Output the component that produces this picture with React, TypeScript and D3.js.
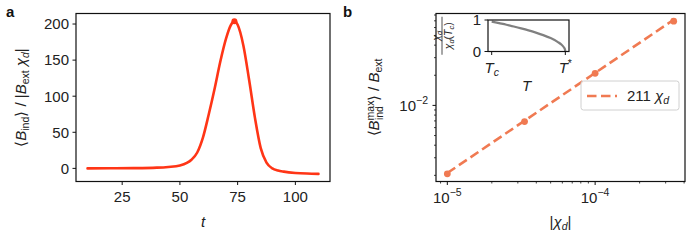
import React from "react";
import * as d3 from "d3";

// panel a: induced field vs time
const timeA = [10, 20, 30, 40, 45, 50, 53, 55, 57.5, 60, 62.5, 65, 67.5, 70, 72, 73.6, 75, 77.5, 80, 82.5, 85, 87.5, 90, 92.5, 95, 100, 105, 110];
const bindA = [0, 0.1, 0.3, 1.0, 2.0, 4.0, 7.5, 12, 22, 43, 75, 110, 148, 180, 198, 204, 199, 170, 122, 70, 28, 8, 0, -3, -4.5, -6.3, -7.2, -7.6];
const xTicksA = [25, 50, 75, 100];
const yTicksA = [0, 50, 100, 150, 200];

// panel b: max induced field vs |chi_d|
const chiAbs = [1e-5, 3.33e-5, 1e-4, 3.4e-4];
const bMax = [2.07e-3, 6.9e-3, 0.0209, 0.0695];
const fitCoef = 211;
const xMajorB = [1e-5, 1e-4];
const yMajorB = [1e-2];

// inset: chi_d / chi_d(Tc) vs T (Tc = 0, T* = 1)
const insetT = [0, 0.1, 0.2, 0.3, 0.4, 0.5, 0.6, 0.7, 0.8, 0.9, 0.95, 0.98, 0.995, 1.0];
const insetChi = [0.95, 0.9, 0.85, 0.795, 0.736, 0.672, 0.6, 0.52, 0.425, 0.3, 0.212, 0.134, 0.067, 0];

const FONT = "'Liberation Sans', Arial, Helvetica, sans-serif";
const FS = 15;
const SUB = 10.5;
const colA = "#ff3516";
const colB = "#f07a52";

const padLin = (lo: number, hi: number) => {
  const m = (hi - lo) * 0.05;
  return [lo - m, hi + m];
};
const padLog = (lo: number, hi: number) => {
  const a = Math.log10(lo), b = Math.log10(hi);
  const m = (b - a) * 0.05;
  return [Math.pow(10, a - m), Math.pow(10, b + m)];
};

function minorLogTicks(lo: number, hi: number) {
  const out: number[] = [];
  for (let e = Math.floor(Math.log10(lo)); e <= Math.ceil(Math.log10(hi)); e++) {
    for (let k = 2; k <= 9; k++) {
      const v = k * Math.pow(10, e);
      if (v >= lo && v <= hi) out.push(v);
    }
  }
  return out;
}

const Pow10 = ({ x, y, exp, anchor }: { x: number; y: number; exp: number; anchor: string }) => (
  <text x={x} y={y} fontSize={FS} textAnchor={anchor} fontFamily={FONT} fill="#222">
    10<tspan fontSize={SUB} dy={-6.5}>{"\u2212" + Math.abs(exp)}</tspan>
  </text>
);

export default function App() {
  // ---------- panel a ----------
  const aL = 76, aR = 330, top = 13.5, bot = 181.5;
  const xA = d3.scaleLinear().domain(padLin(d3.min(timeA)!, d3.max(timeA)!)).range([aL, aR]);
  const yA = d3.scaleLinear().domain(padLin(d3.min(bindA)!, d3.max(bindA)!)).range([bot, top]);
  const lineA = d3.line<number>().x((_, i) => xA(timeA[i])).y((d) => yA(d)).curve(d3.curveMonotoneX);
  const peakI = d3.maxIndex(bindA);

  // ---------- panel b ----------
  const bL = 436, bR = 685;
  const xDomB = padLog(d3.min(chiAbs)!, d3.max(chiAbs)!);
  const yDomB = padLog(d3.min(bMax)!, d3.max(bMax)!);
  const xB = d3.scaleLog().domain(xDomB).range([bL, bR]);
  const yB = d3.scaleLog().domain(yDomB).range([bot, top]);
  const fitPts = chiAbs.map((c) => [xB(c), yB(fitCoef * c)] as [number, number]);
  const fitPath = d3.line()([fitPts[0], fitPts[fitPts.length - 1]]);
  const xMinorB = minorLogTicks(xDomB[0], xDomB[1]);
  const yMinorB = minorLogTicks(yDomB[0], yDomB[1]);

  // ---------- inset ----------
  const iL = 488, iR = 569, iT = 20, iB = 51.5;
  const xI = d3.scaleLinear().domain(padLin(0, 1)).range([iL, iR]);
  const yI = d3.scaleLinear().domain([0, 1]).range([iB, iT]);
  const lineI = d3.line<number>().x((_, i) => xI(insetT[i])).y((d) => yI(d)).curve(d3.curveMonotoneX);

  const tick = 3.5, minor = 2;

  return (
    <svg width={700} height={245} style={{ position: "absolute", left: 0, top: 0, background: "#fff" }} fontFamily={FONT}>
      {/* panel labels */}
      <text x={6} y={17} fontSize={15} fontWeight="bold" fill="#111">a</text>
      <text x={343} y={17} fontSize={15} fontWeight="bold" fill="#111">b</text>

      {/* ===== panel a ===== */}
      <path d={lineA(bindA)!} fill="none" stroke={colA} strokeWidth={2.6} strokeLinejoin="round" strokeLinecap="round" />
      <circle cx={xA(timeA[peakI])} cy={yA(bindA[peakI])} r={3} fill={colA} />
      <rect x={aL} y={top} width={aR - aL} height={bot - top} fill="none" stroke="#111" strokeWidth={1.2} />
      {xTicksA.map((t) => (
        <g key={"xa" + t}>
          <line x1={xA(t)} x2={xA(t)} y1={bot} y2={bot + tick} stroke="#111" strokeWidth={1} />
          <text x={xA(t)} y={bot + 20} fontSize={FS} textAnchor="middle" fill="#222">{t}</text>
        </g>
      ))}
      {yTicksA.map((t) => (
        <g key={"ya" + t}>
          <line x1={aL - tick} x2={aL} y1={yA(t)} y2={yA(t)} stroke="#111" strokeWidth={1} />
          <text x={aL - 7} y={yA(t) + 5.3} fontSize={FS} textAnchor="end" fill="#222">{t}</text>
        </g>
      ))}
      <text x={(aL + aR) / 2} y={227} fontSize={FS} textAnchor="middle" fontStyle="italic" fill="#222">t</text>
      <text transform={`translate(26,${(top + bot) / 2}) rotate(-90)`} fontSize={FS} textAnchor="middle" fill="#222">
        {"\u27E8"}<tspan fontStyle="italic">B</tspan>
        <tspan fontSize={SUB} dy={3}>ind</tspan>
        <tspan dy={-3}>{"\u27E9 / |"}</tspan>
        <tspan fontStyle="italic">B</tspan>
        <tspan fontSize={SUB} dy={3}>ext</tspan>
        <tspan dy={-3} fontStyle="italic">{" \u03C7"}</tspan>
        <tspan fontSize={SUB} dy={3} fontStyle="italic">d</tspan>
        <tspan dy={-3}>|</tspan>
      </text>

      {/* ===== panel b ===== */}
      <path d={fitPath!} fill="none" stroke={colB} strokeWidth={2.6} strokeDasharray="9.5,4.5" />
      {chiAbs.map((c, i) => (
        <circle key={"pb" + i} cx={xB(c)} cy={yB(bMax[i])} r={3.4} fill={colB} />
      ))}
      <rect x={bL} y={top} width={bR - bL} height={bot - top} fill="none" stroke="#111" strokeWidth={1.2} />
      {xMinorB.map((t, i) => (
        <line key={"xmb" + i} x1={xB(t)} x2={xB(t)} y1={bot} y2={bot + minor} stroke="#111" strokeWidth={0.8} />
      ))}
      {xMajorB.map((t) => (
        <g key={"xb" + t}>
          <line x1={xB(t)} x2={xB(t)} y1={bot} y2={bot + tick} stroke="#111" strokeWidth={1} />
          <Pow10 x={xB(t)} y={bot + 21} exp={Math.round(Math.log10(t))} anchor="middle" />
        </g>
      ))}
      {yMinorB.map((t, i) => (
        <line key={"ymb" + i} x1={bL - minor} x2={bL} y1={yB(t)} y2={yB(t)} stroke="#111" strokeWidth={0.8} />
      ))}
      {yMajorB.map((t) => (
        <g key={"yb" + t}>
          <line x1={bL - tick} x2={bL} y1={yB(t)} y2={yB(t)} stroke="#111" strokeWidth={1} />
          <Pow10 x={bL - 8} y={yB(t) + 5.3} exp={Math.round(Math.log10(t))} anchor="end" />
        </g>
      ))}
      <text x={(bL + bR) / 2} y={227} fontSize={FS} textAnchor="middle" fill="#222">
        |<tspan fontStyle="italic">{"\u03C7"}</tspan>
        <tspan fontSize={SUB} dy={3} fontStyle="italic">d</tspan>
        <tspan dy={-3}>|</tspan>
      </text>
      <text transform={`translate(379,${(top + bot) / 2}) rotate(-90)`} fontSize={FS} textAnchor="middle" fill="#222">
        {"\u27E8"}<tspan fontStyle="italic">B</tspan>
        <tspan fontSize={SUB} dy={-5.5}>max</tspan>
        <tspan fontSize={SUB} dx={-19.5} dy={9.5}>ind</tspan>
        <tspan dx={5} dy={-4}>{"\u27E9 / "}</tspan>
        <tspan fontStyle="italic">B</tspan>
        <tspan fontSize={SUB} dy={3}>ext</tspan>
      </text>

      {/* legend */}
      <rect x={581} y={81} width={98} height={29} rx={2.5} fill="#fff" fillOpacity={0.85} stroke="#d0d0d0" strokeWidth={1} />
      <line x1={587} x2={617} y1={96} y2={96} stroke={colB} strokeWidth={2.6} strokeDasharray="9.5,4.5" />
      <text x={627} y={101} fontSize={FS} fill="#222">
        211 <tspan fontStyle="italic">{"\u03C7"}</tspan>
        <tspan fontSize={SUB} dy={3} fontStyle="italic">d</tspan>
      </text>

      {/* inset */}
      <rect x={iL} y={iT} width={iR - iL} height={iB - iT} fill="#fff" stroke="none" />
      <path d={lineI(insetChi)!} fill="none" stroke="#808080" strokeWidth={2.2} />
      <rect x={iL} y={iT} width={iR - iL} height={iB - iT} fill="none" stroke="#111" strokeWidth={1.2} />
      {[0, 1].map((v) => (
        <g key={"yi" + v}>
          <line x1={iL - tick} x2={iL} y1={yI(v)} y2={yI(v)} stroke="#111" strokeWidth={1} />
          <text x={iL - 7} y={yI(v) + 5.3} fontSize={FS} textAnchor="end" fill="#222">{v}</text>
        </g>
      ))}
      {[0, 1].map((v) => (
        <line key={"xi" + v} x1={xI(v)} x2={xI(v)} y1={iB} y2={iB + tick} stroke="#111" strokeWidth={1} />
      ))}
      <text x={xI(0)} y={iB + 21} fontSize={FS} textAnchor="middle" fill="#222">
        <tspan fontStyle="italic">T</tspan>
        <tspan fontSize={SUB} dy={3} fontStyle="italic">c</tspan>
      </text>
      <text x={xI(1)} y={iB + 21} fontSize={FS} textAnchor="middle" fill="#222">
        <tspan fontStyle="italic">T</tspan>
        <tspan fontSize={SUB} dy={-6}>*</tspan>
      </text>
      <text x={(iL + iR) / 2 - 2} y={iB + 39} fontSize={FS} textAnchor="middle" fontStyle="italic" fill="#222">T</text>
      <g transform={`translate(442,${(iT + iB) / 2}) rotate(-90)`} fill="#222">
        <text x={0} y={-2} fontSize={10.5} textAnchor="middle">
          <tspan fontStyle="italic">{"\u03C7"}</tspan>
          <tspan fontSize={7.5} dy={2} fontStyle="italic">d</tspan>
        </text>
        <line x1={-19} x2={19} y1={0} y2={0} stroke="#222" strokeWidth={0.8} />
        <text x={0} y={9.5} fontSize={10.5} textAnchor="middle">
          <tspan fontStyle="italic">{"\u03C7"}</tspan>
          <tspan fontSize={7.5} dy={2} fontStyle="italic">d</tspan>
          <tspan dy={-2}>(</tspan>
          <tspan fontStyle="italic">T</tspan>
          <tspan fontSize={7.5} dy={2} fontStyle="italic">c</tspan>
          <tspan dy={-2}>)</tspan>
        </text>
      </g>
    </svg>
  );
}
